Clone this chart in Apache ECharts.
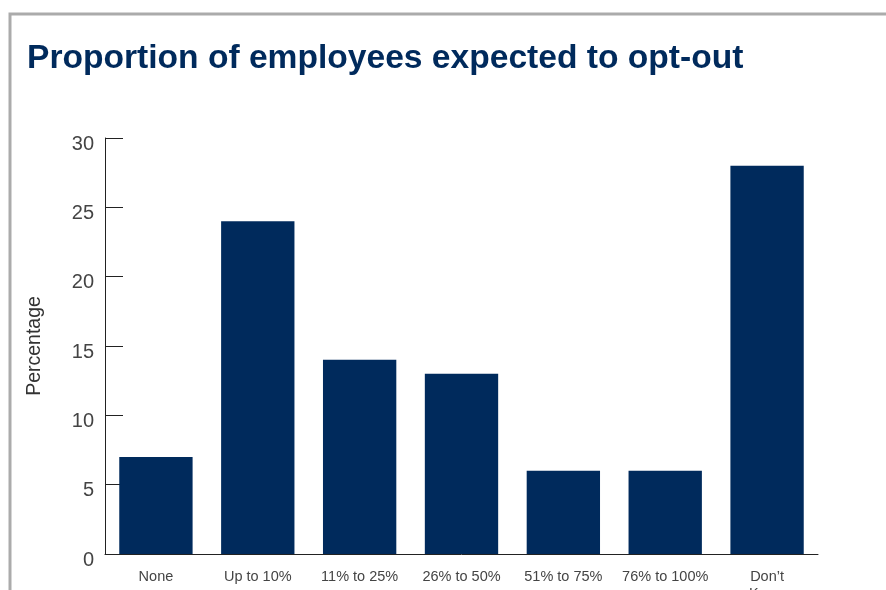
<!DOCTYPE html>
<html>
<head>
<meta charset="utf-8">
<script src="https://cdn.jsdelivr.net/npm/echarts@6/dist/echarts.min.js"></script>
<style>
  html, body { margin: 0; padding: 0; background: #fff; }
  #chart { width: 886px; height: 590px; }
</style>
</head>
<body>
<div id="chart"></div>
<script>
const categories = ['None', 'Up to 10%', '11% to 25%', '26% to 50%', '51% to 75%', '76% to 100%', 'Don\u2019t\nKnow'];
const percentages = [7, 24, 14, 13, 6, 6, 28];

const chart = echarts.init(document.getElementById('chart'));

chart.setOption({
    animation: false,
    textStyle: { fontFamily: 'Liberation Sans, Arial, sans-serif' },
    title: {
        text: 'Proportion of employees expected to opt-out',
        left: 22,
        top: 37,
        textStyle: {
            fontSize: 33.6,
            fontWeight: 'bold',
            color: '#002a5c'
        }
    },
    graphic: [{
        type: 'rect',
        shape: { x: 10, y: 14, width: 1000, height: 700 },
        style: { fill: 'none', stroke: '#ababab', lineWidth: 3 },
        silent: true
    }],
    grid: { left: 105, right: 68, top: 138, bottom: 36, outerBoundsMode: 'none' },
    xAxis: {
        type: 'category',
        data: categories,
        axisLine: { lineStyle: { color: '#222', width: 1 } },
        axisTick: { show: false },
        axisLabel: {
            color: '#444',
            fontSize: 14.5,
            margin: 14,
            interval: 0,
            lineHeight: 17
        }
    },
    yAxis: {
        type: 'value',
        min: 0,
        max: 30,
        interval: 5,
        name: 'Percentage',
        nameLocation: 'middle',
        nameGap: 60,
        nameTextStyle: { color: '#333', fontSize: 19.5 },
        axisLine: { show: true, lineStyle: { color: '#222', width: 1 } },
        axisTick: { show: true, inside: true, length: 18, lineStyle: { color: '#222' } },
        splitLine: { show: false },
        axisLabel: {
            color: '#444',
            fontSize: 20,
            margin: 11,
            verticalAlign: 'top',
            lineHeight: 12
        }
    },
    series: [{
        type: 'bar',
        data: percentages,
        barWidth: '72%',
        itemStyle: { color: '#002a5c' }
    }]
});
</script>
</body>
</html>
